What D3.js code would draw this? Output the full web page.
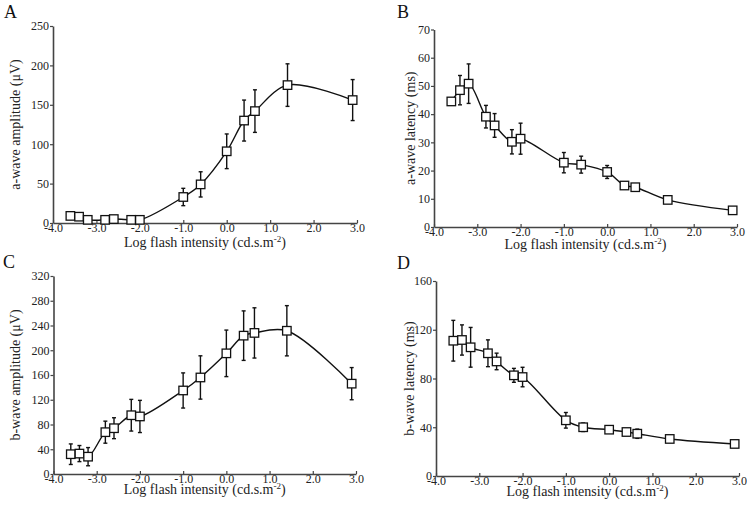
<!DOCTYPE html>
<html><head><meta charset="utf-8">
<script src="https://cdn.jsdelivr.net/npm/d3@7"></script>
<style>body{margin:0;background:#fff}svg{display:block}</style>
</head><body>
<svg id="c" width="747" height="510"></svg>
<script>
const intensity = [-3.6, -3.4, -3.2, -2.8, -2.6, -2.2, -2.0, -1.0, -0.6, 0.0, 0.4, 0.65, 1.4, 2.9];
const aAmp    = [9, 8, 4, 4, 5, 4, 4, 33, 49, 91, 130, 142, 175, 156];
const aAmpErr = [1, 1, 1, 1, 1, 1, 1, 11, 16, 22, 26, 27, 27, 26];
const aLat    = [44.5, 48.5, 50.8, 39.1, 36.0, 30.2, 31.3, 22.8, 22.1, 19.5, 14.7, 14.1, 9.6, 5.9];
const aLatErr = [0.5, 5.2, 7.0, 4.0, 4.2, 4.3, 5.5, 3.6, 3.0, 2.3, 0.8, 0.8, 0.5, 0.5];
const bAmp    = [32, 33, 28, 67.6, 74, 95, 93, 135, 156, 195, 223.6, 228, 231.5, 146];
const bAmpErr = [16.6, 13, 14.7, 17.8, 16.9, 25.6, 26, 28.4, 35, 37.6, 40, 40.6, 40.6, 26];
const bLat    = [111, 111.6, 105.6, 100.7, 94, 82.6, 81.2, 45.7, 40, 38, 36.1, 34.7, 30.4, 26.3];
const bLatErr = [16.7, 12.4, 16.3, 11, 6.8, 5.7, 8, 6.4, 3.5, 1, 2.5, 3.8, 2.5, 1];
const xTicks = [-4, -3, -2, -1, 0, 1, 2, 3];
const xLabel = "Log flash intensity (cd.s.m";

const panels = [
  {letter:"A", lx:4, ly:18, x:[53,357], y:[223,26], dom:[0,250], ticks:[0,50,100,150,200,250], vals:aAmp, errs:aAmpErr, ylab:"a-wave amplitude (\u03BCV)", ylx:15, xlb:247},
  {letter:"B", lx:397, ly:18, x:[434,737], y:[227,29.5], dom:[0,70], ticks:[0,10,20,30,40,50,60,70], vals:aLat, errs:aLatErr, ylab:"a-wave latency (ms)", ylx:410, xlb:249},
  {letter:"C", lx:3, ly:268, x:[53.5,356], y:[474,276], dom:[0,320], ticks:[0,40,80,120,160,200,240,280,320], vals:bAmp, errs:bAmpErr, ylab:"b-wave amplitude (\u03BCV)", ylx:15.5, xlb:494},
  {letter:"D", lx:397, ly:269, x:[436,739], y:[476,281], dom:[0,160], ticks:[0,40,80,120,160], vals:bLat, errs:bLatErr, ylab:"b-wave latency (ms)", ylx:409, xlb:496}
];

const svg = d3.select("#c");
const font = "'Liberation Serif','Times New Roman',serif";
const fmt = v => d3.format(".1f")(v).replace("\u2212","-");

panels.forEach(p => {
  const x = d3.scaleLinear().domain([-4,3]).range(p.x);
  const y = d3.scaleLinear().domain(p.dom).range(p.y);
  const g = svg.append("g");

  const ya = g.append("g").attr("transform",`translate(${p.x[0]},0)`)
    .call(d3.axisLeft(y).tickValues(p.ticks).tickSize(3).tickPadding(1).tickSizeOuter(0).tickFormat(d3.format("d")));
  const xa = g.append("g").attr("transform",`translate(0,${p.y[0]})`)
    .call(d3.axisBottom(x).tickValues(xTicks).tickSize(-3).tickPadding(2).tickSizeOuter(0).tickFormat(fmt));
  [ya,xa].forEach(a => {
    a.select(".domain").attr("stroke","#444").attr("stroke-width",1.6);
    a.selectAll(".tick line").attr("stroke","#444").attr("stroke-width",1.2);
    a.selectAll("text").attr("font-family",font).attr("font-size",12).attr("fill","#222");
  });
  xa.selectAll("text").attr("dy","0.6em");

  const pts = intensity.map((d,i)=>({x:d, v:p.vals[i], e:p.errs[i]}));
  const line = d3.line().x(d=>x(d.x)).y(d=>y(d.v)).curve(d3.curveCatmullRom.alpha(0.5));
  g.append("path").datum(pts).attr("d",line).attr("fill","none").attr("stroke","#111").attr("stroke-width",1.4);

  const eb = g.append("g").selectAll("g").data(pts).join("g");
  eb.append("line").attr("x1",d=>x(d.x)).attr("x2",d=>x(d.x)).attr("y1",d=>y(d.v+d.e)).attr("y2",d=>y(d.v-d.e)).attr("stroke","#111").attr("stroke-width",1.4);
  eb.append("line").attr("x1",d=>x(d.x)-2).attr("x2",d=>x(d.x)+2).attr("y1",d=>y(d.v+d.e)).attr("y2",d=>y(d.v+d.e)).attr("stroke","#111").attr("stroke-width",1.4);
  eb.append("line").attr("x1",d=>x(d.x)-2).attr("x2",d=>x(d.x)+2).attr("y1",d=>y(d.v-d.e)).attr("y2",d=>y(d.v-d.e)).attr("stroke","#111").attr("stroke-width",1.4);

  g.append("g").selectAll("rect").data(pts).join("rect")
    .attr("x",d=>x(d.x)-4.25).attr("y",d=>y(d.v)-4.25).attr("width",8.5).attr("height",8.5)
    .attr("fill","#fff").attr("stroke","#111").attr("stroke-width",1.3);

  const cy = (p.y[0]+p.y[1])/2;
  g.append("text").attr("transform",`translate(${p.ylx},${cy}) rotate(-90)`)
    .attr("text-anchor","middle").attr("dy","0.35em")
    .attr("font-family",font).attr("font-size",14).attr("fill","#222").text(p.ylab);

  const xt = g.append("text").attr("x",(p.x[0]+p.x[1])/2).attr("y",p.xlb)
    .attr("text-anchor","middle").attr("font-family",font).attr("font-size",14).attr("fill","#222");
  xt.append("tspan").text(xLabel);
  xt.append("tspan").attr("dy",-5).attr("font-size",9).text("-2");
  xt.append("tspan").attr("dy",5).text(")");

  g.append("text").attr("x",p.lx).attr("y",p.ly).attr("font-family",font).attr("font-size",18).attr("fill","#111").text(p.letter);
});
</script>
</body></html>
